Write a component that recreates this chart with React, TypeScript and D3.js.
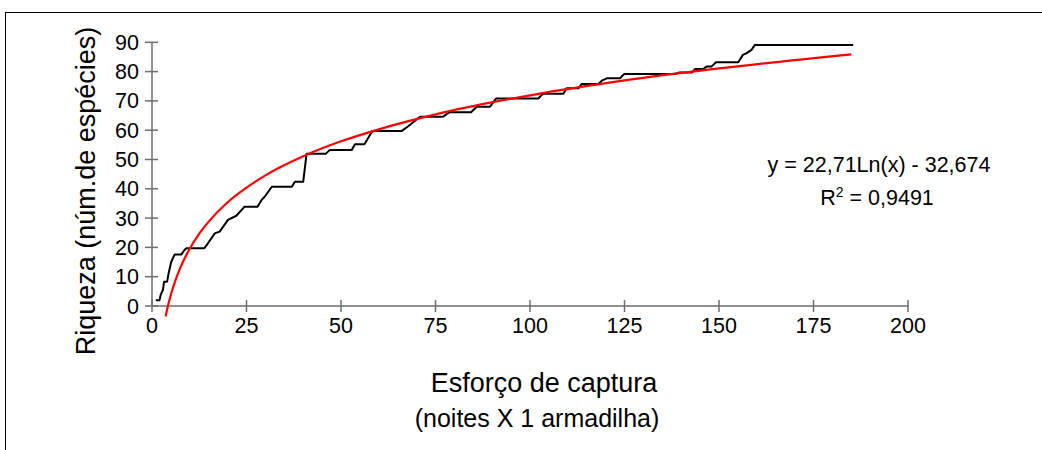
import React from "react";
import * as d3 from "d3";

// Observed species accumulation (black polyline vertices)
const obsX = [1, 2, 2.3, 2.9, 3.2, 4.0, 4.4, 5.1, 6.0, 7.8, 8.6, 9.1, 13.8, 14.8, 16.6, 17.9, 20.1, 22.3, 24.5, 27.9, 29.0, 29.8, 31.7, 37.0, 37.8, 40.0, 40.9, 46.0, 47.0, 52.8, 53.7, 56.2, 58.3, 66.0, 67.0, 68.7, 70.9, 77.0, 78.6, 84.4, 85.9, 89.4, 91.0, 102.2, 103.4, 108.8, 109.7, 112.8, 113.7, 118.1, 119.0, 120.3, 123.8, 124.9, 138.4, 139.5, 142.8, 143.7, 145.8, 146.7, 148.0, 149.2, 155.1, 156.3, 157.2, 158.6, 159.5, 185.5];
const obsY = [2, 2, 3.8, 5.5, 8.3, 8.3, 11.2, 15.1, 17.6, 17.6, 19.1, 19.7, 19.7, 21.4, 24.8, 25.4, 29.4, 30.8, 33.9, 33.9, 36.2, 37.3, 40.7, 40.7, 42.4, 42.4, 52, 52, 53.2, 53.2, 55.2, 55.2, 59.7, 59.7, 60.6, 62.3, 64.6, 64.6, 66.1, 66.1, 68, 68, 70.8, 70.8, 72.4, 72.4, 74.3, 74.3, 75.8, 75.8, 76.9, 77.7, 77.7, 79.2, 79.2, 79.7, 79.7, 80.9, 80.9, 81.7, 81.7, 83.2, 83.2, 85.7, 86.2, 87.4, 89.1, 89.1];

// Logarithmic trendline
const fitX = [3.6, 4, 5, 6, 7.5, 10, 12.5, 15, 20, 25, 30, 40, 50, 60, 75, 100, 125, 150, 185];
const fitY = [-3.6, -1.2, 3.9, 8.0, 13.1, 19.6, 24.7, 28.8, 35.4, 40.4, 44.6, 51.1, 56.2, 60.3, 65.4, 71.9, 77.0, 81.1, 85.9];

const xTicks = [0, 25, 50, 75, 100, 125, 150, 175, 200];
const yTicks = [0, 10, 20, 30, 40, 50, 60, 70, 80, 90];

const yTitle = "Riqueza (núm.de espécies)";
const xTitle1 = "Esforço de captura";
const xTitle2 = "(noites X 1 armadilha)";
const eqText = "y = 22,71Ln(x) - 32,674";
const r2Label = "R";
const r2Value = " = 0,9491";

export default function App() {
  const W = 1042, H = 450;
  const x = d3.scaleLinear().domain([0, 200]).range([152, 908]);
  const y = d3.scaleLinear().domain([0, 90]).range([306, 42.3]);
  const axisColor = "#6e6e6e";
  const font = "Arial, 'Liberation Sans', sans-serif";

  const obsPts: [number, number][] = obsX.map((v, i) => [v, obsY[i]]);
  const fitPts: [number, number][] = fitX.map((v, i) => [v, fitY[i]]);
  const line = d3.line<[number, number]>().x((d) => x(d[0])).y((d) => y(d[1]));
  const fitLine = d3
    .line<[number, number]>()
    .x((d) => x(d[0]))
    .y((d) => y(d[1]))
    .curve(d3.curveMonotoneX);

  return (
    <svg
      width={W}
      height={H}
      style={{ position: "absolute", left: 0, top: 0, display: "block", background: "#fff" }}
      fontFamily={font}
    >
      <rect x={0} y={0} width={W} height={H} fill="#fff" />
      <rect x={5.5} y={12.5} width={1200} height={600} fill="none" stroke="#000" strokeWidth={1} />

      {/* axes */}
      <line x1={x(0)} x2={x(200)} y1={y(0)} y2={y(0)} stroke={axisColor} strokeWidth={1.5} />
      <line x1={x(0)} x2={x(0)} y1={y(0)} y2={y(90)} stroke={axisColor} strokeWidth={1.5} />
      {xTicks.map((t) => (
        <g key={"xt" + t}>
          <line x1={x(t)} x2={x(t)} y1={y(0) - 6} y2={y(0) + 6} stroke={axisColor} strokeWidth={1.5} />
          <text x={x(t)} y={y(0) + 27} textAnchor="middle" fontSize={21.5} fill="#000">
            {t}
          </text>
        </g>
      ))}
      {yTicks.map((t) => (
        <g key={"yt" + t}>
          <line x1={x(0) - 7} x2={x(0) + 6} y1={y(t)} y2={y(t)} stroke={axisColor} strokeWidth={1.5} />
          <text x={139} y={y(t) + 7.5} textAnchor="end" fontSize={21.5} fill="#000">
            {t}
          </text>
        </g>
      ))}

      {/* series */}
      <path d={line(obsPts) || ""} fill="none" stroke="#000" strokeWidth={2} strokeLinejoin="round" />
      <path d={fitLine(fitPts) || ""} fill="none" stroke="#ff0000" strokeWidth={2.2} strokeLinejoin="round" />

      {/* titles */}
      <text
        transform={`translate(95,191) rotate(-90)`}
        textAnchor="middle"
        fontSize={27}
        fill="#000"
      >
        {yTitle}
      </text>
      <text x={544} y={392} textAnchor="middle" fontSize={27} fill="#000">
        {xTitle1}
      </text>
      <text x={537} y={427} textAnchor="middle" fontSize={25} fill="#000">
        {xTitle2}
      </text>

      {/* trendline label */}
      <text x={879} y={172} textAnchor="middle" fontSize={21.5} fill="#000">
        {eqText}
      </text>
      <text x={877} y={205} textAnchor="middle" fontSize={21.5} fill="#000">
        {r2Label}
        <tspan dy={-8} fontSize={14}>2</tspan>
        <tspan dy={8}>{r2Value}</tspan>
      </text>
    </svg>
  );
}
